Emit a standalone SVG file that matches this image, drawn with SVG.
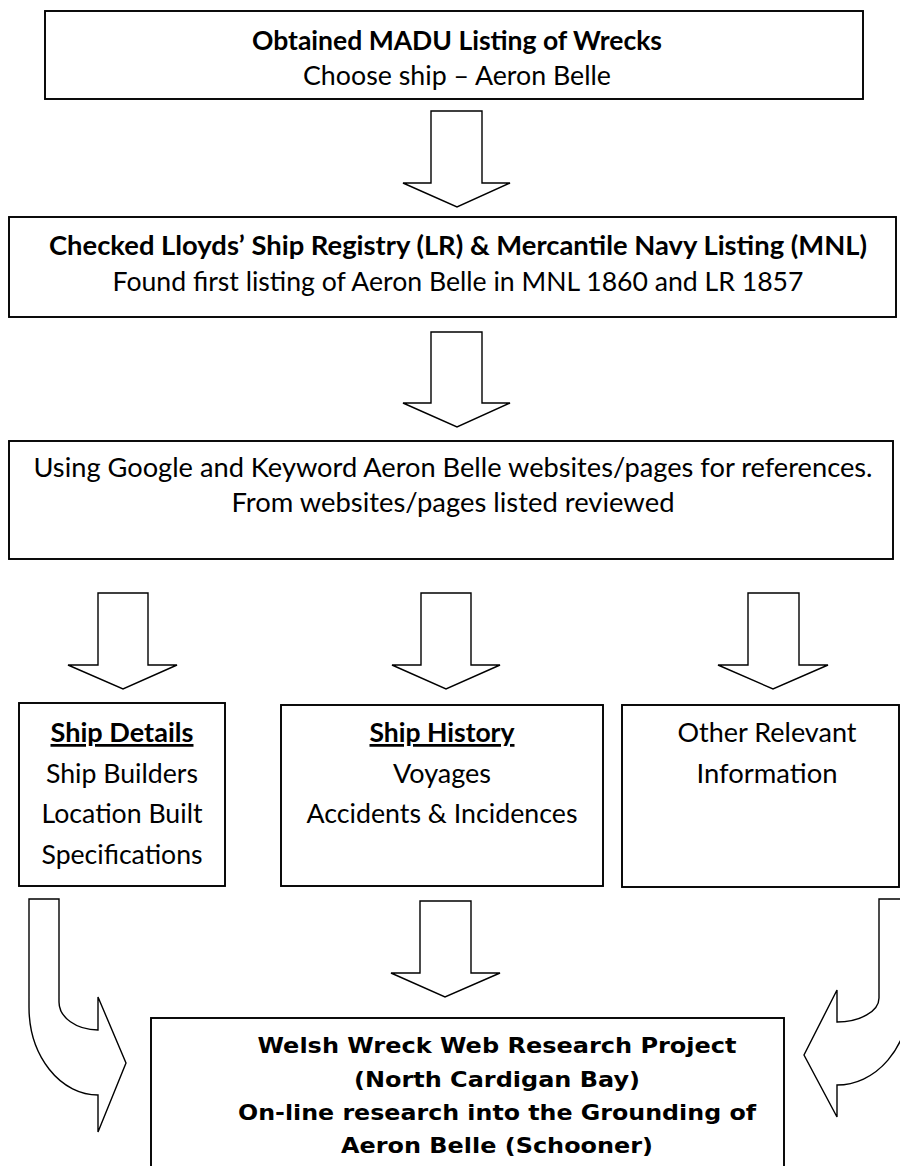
<svg xmlns="http://www.w3.org/2000/svg" width="900" height="1166" viewBox="0 0 900 1166">
<style>
.box{fill:#fff;stroke:#000;stroke-width:1.9}
.arr{fill:#fff;stroke:#000;stroke-width:1.4;stroke-linejoin:miter}
.t{font-family:Lato,"Open Sans","Liberation Sans",sans-serif;font-size:27.5px;fill:#000;text-anchor:middle}
.b{font-weight:bold}
.u{text-decoration:underline}
.v{font-family:"DejaVu Sans","Liberation Sans",sans-serif;font-weight:bold;font-size:21.5px;fill:#000;text-anchor:middle}
</style>
<rect width="900" height="1166" fill="#fff"/>
<g id="connectors">
<path class="arr" d="M431,111 H482 V183 H510 L457,207 L403,183 H431 Z"/>
<path class="arr" d="M431,332 H482 V403 H510 L457,427 L403,403 H431 Z"/>
<path class="arr" d="M98,593 H148 V665 H177 L123,689 L68,665 H98 Z"/>
<path class="arr" d="M421,593 H471 V665 H500 L446,689 L392,665 H421 Z"/>
<path class="arr" d="M748,593 H799 V665 H828 L773,689 L718,665 H748 Z"/>
<path class="arr" d="M420,901 H471 V973 H500 L445,997 L391,973 H420 Z"/>
<path class="arr" d="M29,899 H59 V1002 A39,28 0 0 0 98,1030 V997 L126,1063 L98,1132 V1095 A69,88 0 0 1 29,1007 Z"/>
<path class="arr" d="M909,899 H879 V998 A42,24 0 0 1 837,1022 V990 L804,1055 L837,1117 V1085 A72,85 0 0 0 909,1000 Z"/>
</g>
<g id="madu">
<rect class="box" x="45" y="11" width="818" height="88"/>
<text class="t b" x="457" y="50" textLength="410" lengthAdjust="spacingAndGlyphs">Obtained MADU Listing of Wrecks</text>
<text class="t" x="457" y="85" textLength="308" lengthAdjust="spacingAndGlyphs">Choose ship – Aeron Belle</text>
</g>
<g id="lloyds">
<rect class="box" x="9" y="217" width="887" height="100"/>
<text class="t b" x="458" y="255" textLength="818" lengthAdjust="spacingAndGlyphs">Checked Lloyds’ Ship Registry (LR) &amp; Mercantile Navy Listing (MNL)</text>
<text class="t" x="458" y="291" textLength="691" lengthAdjust="spacingAndGlyphs">Found first listing of Aeron Belle in MNL 1860 and LR 1857</text>
</g>
<g id="google">
<rect class="box" x="9" y="441" width="884" height="118"/>
<text class="t" x="453" y="477" textLength="839" lengthAdjust="spacingAndGlyphs">Using Google and Keyword Aeron Belle websites/pages for references.</text>
<text class="t" x="453" y="512" textLength="443" lengthAdjust="spacingAndGlyphs">From websites/pages listed reviewed</text>
</g>
<g id="details">
<rect class="box" x="19" y="703" width="206" height="183"/>
<text class="t b u" x="122" y="742" textLength="143" lengthAdjust="spacingAndGlyphs">Ship Details</text>
<text class="t" x="122" y="783" textLength="152" lengthAdjust="spacingAndGlyphs">Ship Builders</text>
<text class="t" x="122" y="823" textLength="161" lengthAdjust="spacingAndGlyphs">Location Built</text>
<text class="t" x="122" y="864" textLength="161" lengthAdjust="spacingAndGlyphs">Specifications</text>
</g>
<g id="history">
<rect class="box" x="281" y="705" width="322" height="181"/>
<text class="t b u" x="442" y="742" textLength="145" lengthAdjust="spacingAndGlyphs">Ship History</text>
<text class="t" x="442" y="783" textLength="98" lengthAdjust="spacingAndGlyphs">Voyages</text>
<text class="t" x="442" y="823" textLength="271" lengthAdjust="spacingAndGlyphs">Accidents &amp; Incidences</text>
</g>
<g id="other">
<rect class="box" x="622" y="705" width="277" height="182"/>
<text class="t" x="767" y="742" textLength="179" lengthAdjust="spacingAndGlyphs">Other Relevant</text>
<text class="t" x="767" y="783" textLength="141" lengthAdjust="spacingAndGlyphs">Information</text>
</g>
<g id="project">
<rect class="box" x="151" y="1018" width="633" height="160"/>
<text class="v" x="497" y="1053" textLength="479" lengthAdjust="spacingAndGlyphs">Welsh Wreck Web Research Project</text>
<text class="v" x="497" y="1087" textLength="286" lengthAdjust="spacingAndGlyphs">(North Cardigan Bay)</text>
<text class="v" x="497" y="1120" textLength="518" lengthAdjust="spacingAndGlyphs">On-line research into the Grounding of</text>
<text class="v" x="497" y="1153" textLength="312" lengthAdjust="spacingAndGlyphs">Aeron Belle (Schooner)</text>
</g>
</svg>
